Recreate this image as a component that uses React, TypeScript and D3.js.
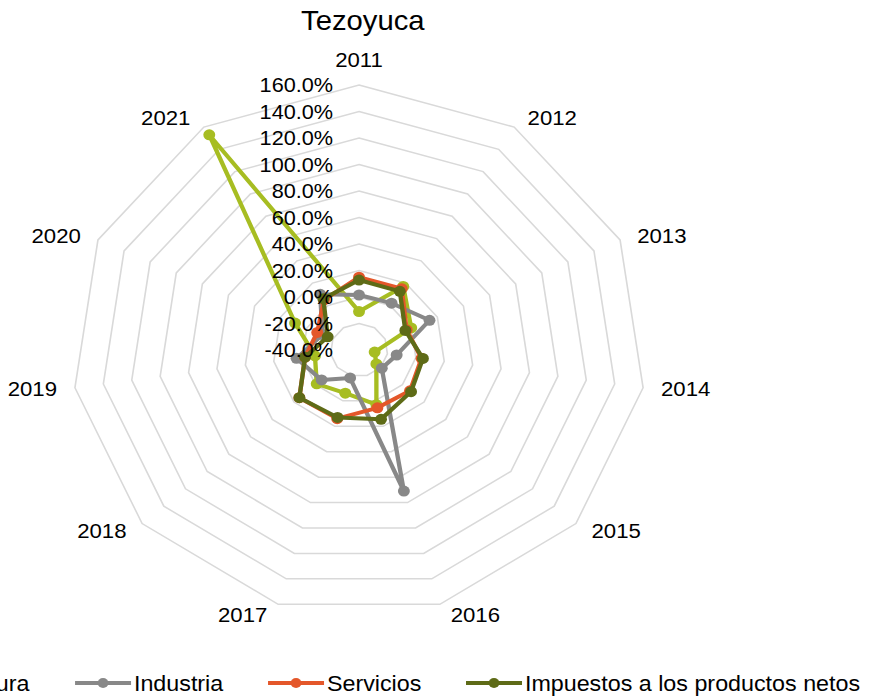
import React from 'react';
import * as d3 from 'd3';

const years = ['2011', '2012', '2013', '2014', '2015', '2016', '2017', '2018', '2019', '2020', '2021'];
const seriesNames = ['Agricultura', 'Industria', 'Servicios', 'Impuestos a los productos netos'];
const agricultura = [-11, 17, 0, -29, -24, 3, -6, -1, -9, 9, 153];
const industria = [1.5, 2, 14, -13.5, -19, 71, -18, -5.5, 4, -12, 10];
const servicios = [15, 15, -3.5, 4, 7, 5.5, 14, 15, -2, -8, 5];
const impuestos = [12.8, 12.6, -4.5, 5, 8, 14.5, 13, 15, -2, -16, 6];
const ticks = [-40, -20, 0, 20, 40, 60, 80, 100, 120, 140, 160];
const colors = ['#a7bd22', '#888888', '#e4572a', '#5e6b17'];

// the reference is stretched a bit horizontally, so everything sits in a scaled group
const sx = 1.083;
const cx = 331.5;
const cy = 350;
const outer = 265;

export default function App() {
  const r = d3.scaleLinear().domain([-40, 160]).range([0, outer]);
  const angle = (i: number) => (2 * Math.PI * i) / years.length;
  const all = [agricultura, industria, servicios, impuestos];

  const radial = d3
    .lineRadial<number>()
    .angle((_, i) => angle(i))
    .radius((d) => r(d))
    .curve(d3.curveLinearClosed);

  const pt = (v: number, i: number) => [r(v) * Math.sin(angle(i)), -r(v) * Math.cos(angle(i))];

  const fmt = (t: number) => t.toFixed(1) + '%';

  // legend layout (unscaled x)
  const legendX = [-130, 69.3, 247.5, 430.3];
  const legendY = 683;

  return (
    <svg width={872} height={700} style={{ position: 'absolute', left: 0, top: 0, fontFamily: 'Liberation Sans, Arial, sans-serif' }}>
      <rect width={872} height={700} fill="#fff" />
      <g transform={`scale(${sx},1)`}>
        <text x={335} y={30} fontSize={27} textAnchor="middle" fill="#000">Tezoyuca</text>
        <g transform={`translate(${cx},${cy})`}>
          {ticks.slice(1).map((t) => (
            <path key={t} d={radial(years.map(() => t)) || ''} fill="none" stroke="#d9d9d9" strokeWidth={1.5} />
          ))}
          {all.map((s, k) => (
            <g key={seriesNames[k]}>
              <path d={radial(s) || ''} fill="none" stroke={colors[k]} strokeWidth={4} strokeLinejoin="round" />
              {s.map((v, i) => {
                const [x, y] = pt(v, i);
                return <circle key={i} cx={x} cy={y} r={5.5} fill={colors[k]} />;
              })}
            </g>
          ))}
          {ticks.map((t) => (
            <text key={t} x={-24} y={-r(t)} dy="0.35em" fontSize={20} textAnchor="end" fill="#000">
              {fmt(t)}
            </text>
          ))}
          {years.map((yr, i) => {
            const a = angle(i);
            const s = Math.sin(a);
            const c = Math.cos(a);
            const vx = outer * s;
            const vy = -outer * c;
            if (Math.abs(s) < 0.05) {
              return (
                <text key={yr} x={vx} y={vy - 25} dy="0.35em" fontSize={20.5} textAnchor="middle">{yr}</text>
              );
            }
            const off = (8 + 10 * Math.abs(s)) / sx;
            return (
              <text
                key={yr}
                x={s > 0 ? vx + off : vx - off}
                y={vy - 11 * c}
                dy="0.35em"
                fontSize={20.5}
                textAnchor={s > 0 ? 'start' : 'end'}
              >
                {yr}
              </text>
            );
          })}
        </g>
        {seriesNames.map((name, k) => (
          <g key={name} transform={`translate(${legendX[k]},${legendY})`}>
            <line x1={0} x2={51.7} y1={0} y2={0} stroke={colors[k]} strokeWidth={4} />
            <circle cx={25.85} cy={0} r={5} fill={colors[k]} />
            <text x={54.4} y={0} dy="0.35em" fontSize={21.5} fill="#000">{name}</text>
          </g>
        ))}
      </g>
    </svg>
  );
}
